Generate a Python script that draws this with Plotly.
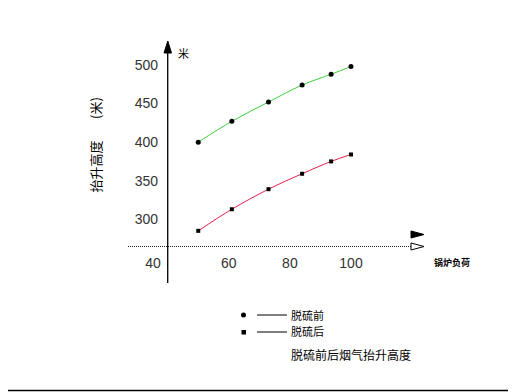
import plotly.graph_objects as go

# ---- data ----
load = [50, 61, 73, 84, 93.5, 100]
before = [400, 427, 452, 474, 488, 498]   # 脱硫前
after = [285, 313, 339, 359, 375, 384]    # 脱硫后
ytick_vals = [300, 350, 400, 450, 500]
ytick_text = ["300", "350", "400", "450", "500"]
xtick_vals = [35.2, 60, 80, 100]
xtick_text = ["40", "60", "80", "100"]

OFF = 8  # page body margin
W, H = 516 - OFF, 392 - OFF
# plot area in screen pixels
SX0, SX1, SY0, SY1 = 128, 411, 42, 283
L, T = SX0 - OFF, SY0 - OFF
R, B = W - (SX1 - OFF), H - (SY1 - OFF)
PW, PH = SX1 - SX0, SY1 - SY0


def px(x):
    return (x - SX0) / PW


def py(y):
    return (SY1 - y) / PH


fig = go.Figure()
fig.add_trace(go.Scatter(x=load, y=before, mode="lines+markers", name="脱硫前",
                         line=dict(color="#3ccf3c", width=1, shape="spline"),
                         marker=dict(color="black", size=5, symbol="circle"),
                         showlegend=False))
fig.add_trace(go.Scatter(x=load, y=after, mode="lines+markers", name="脱硫后",
                         line=dict(color="#e0204a", width=1, shape="spline"),
                         marker=dict(color="black", size=4, symbol="square"),
                         showlegend=False))

cjk = "Noto Sans CJK SC"
shapes = [
    # x axis (dotted)
    dict(type="line", xref="paper", yref="paper", x0=px(128), x1=px(411),
         y0=py(246.5), y1=py(246.5), line=dict(color="#222", width=1, dash="1px,1px")),
    # y axis
    dict(type="line", xref="x", yref="paper", x0=40, x1=40, y0=py(283), y1=py(46),
         line=dict(color="black", width=1.3)),
    # up arrow
    dict(type="path", xref="paper", yref="paper",
         path=f"M {px(167.8)} {py(41)} L {px(164)} {py(53)} L {px(171.5)} {py(53)} Z",
         fillcolor="black", line=dict(color="black", width=1)),
    # right filled arrow
    dict(type="path", xref="paper", yref="paper",
         path=f"M {px(411)} {py(231)} L {px(424)} {py(234.5)} L {px(411)} {py(238)} Z",
         fillcolor="black", line=dict(color="black", width=1)),
    # right hollow arrow
    dict(type="path", xref="paper", yref="paper",
         path=f"M {px(411)} {py(243)} L {px(424)} {py(246.5)} L {px(411)} {py(250)} Z",
         fillcolor="white", line=dict(color="black", width=1)),
    # bottom line
    dict(type="line", xref="paper", yref="paper", x0=px(0), x1=px(515),
         y0=py(390.5), y1=py(390.5), line=dict(color="black", width=1.5)),
    # legend symbols
    dict(type="circle", xref="paper", yref="paper", x0=px(241), x1=px(246),
         y0=py(312.5), y1=py(317.5), fillcolor="black", line=dict(color="black", width=0)),
    dict(type="line", xref="paper", yref="paper", x0=px(257), x1=px(287),
         y0=py(315), y1=py(315), line=dict(color="black", width=1)),
    dict(type="rect", xref="paper", yref="paper", x0=px(241.5), x1=px(246),
         y0=py(330), y1=py(334.5), fillcolor="black", line=dict(color="black", width=0)),
    dict(type="line", xref="paper", yref="paper", x0=px(257), x1=px(287),
         y0=py(332), y1=py(332), line=dict(color="black", width=1)),
]

annotations = [
    dict(text="抬升高度", x=px(95), y=py(166.5), textangle=-90,
         font=dict(family=cjk, size=13, color="black")),
    dict(text="(米)", x=px(95), y=py(108), textangle=-90,
         font=dict(family=cjk, size=13, color="black")),
    dict(text="米", x=px(183), y=py(53), font=dict(family=cjk, size=11, color="black")),
    dict(text="<b>锅炉负荷</b>", x=px(452), y=py(262), font=dict(family=cjk, size=9, color="black")),
    dict(text="脱硫前", x=px(289), y=py(315), xanchor="left",
         font=dict(family=cjk, size=11, color="black")),
    dict(text="脱硫后", x=px(289), y=py(331), xanchor="left",
         font=dict(family=cjk, size=11, color="black")),
    dict(text="脱硫前后烟气抬升高度", x=px(289), y=py(354), xanchor="left",
         font=dict(family=cjk, size=12, color="black")),
]
for a in annotations:
    a.update(xref="paper", yref="paper", showarrow=False)
    a.setdefault("xanchor", "center")
    a["yanchor"] = "middle"

fig.update_layout(
    width=W, height=H, margin=dict(l=L, r=R, t=T, b=B),
    paper_bgcolor="white", plot_bgcolor="white",
    shapes=shapes, annotations=annotations,
    xaxis=dict(range=[27.0, 119.65], anchor="free", position=py(246.5),
               showline=False, showgrid=False, zeroline=False,
               tickvals=xtick_vals, ticktext=xtick_text,
               ticks="outside", ticklen=4, tickcolor="rgba(0,0,0,0)",
               tickfont=dict(family="Liberation Sans", size=14, color="#333")),
    yaxis=dict(range=[217.4, 529.8], anchor="free", position=px(167.8),
               showline=False, showgrid=False, zeroline=False,
               tickvals=ytick_vals, ticktext=ytick_text,
               ticks="outside", ticklen=7, tickcolor="rgba(0,0,0,0)",
               tickfont=dict(family="Liberation Sans", size=14, color="#333")),
)

fig.write_html("out.html")
